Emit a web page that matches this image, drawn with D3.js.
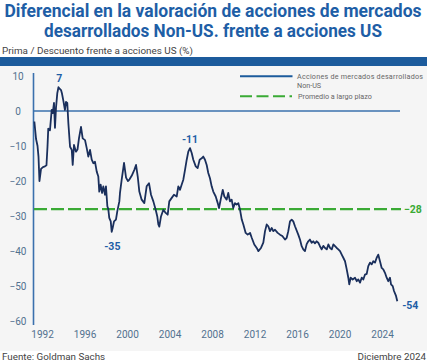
<!DOCTYPE html>
<html>
<head>
<meta charset="utf-8">
<script src="https://cdn.jsdelivr.net/npm/d3@7"></script>
<style>
  html, body { margin: 0; padding: 0; background: #ffffff; }
  svg { display: block; }
</style>
</head>
<body>
<div id="chart"></div>
<script>
// ---- Data ----
const titleLines = ["Diferencial en la valoración de acciones de mercados", "desarrollados Non-US. frente a acciones US"];
const subtitle = "Prima / Descuento frente a acciones US (%)";
const seriesName = ["Acciones de mercados desarrollados", "Non-US"];
const avgName = "Promedio a largo plazo";
const source = "Fuente: Goldman Sachs";
const dateNote = "Diciembre 2024";

const years = [
  1991.28,1991.44,1991.58,1991.67,1991.76,1991.91,1992.09,1992.28,1992.42,1992.52,1992.59,1992.75,1992.91,1993.01,1993.13,1993.22,1993.32,1993.44,1993.55,1993.63,1993.79,1993.88,
  1994.00,1994.16,1994.26,1994.38,1994.48,1994.64,1994.80,1994.89,1995.01,1995.20,1995.34,1995.48,1995.67,1995.83,1996.05,1996.21,1996.36,1996.52,1996.68,1996.83,1996.99,
  1997.15,1997.30,1997.39,1997.52,1997.65,1997.77,1997.93,1998.02,1998.15,1998.24,1998.33,1998.47,1998.56,1998.65,1998.78,1998.96,1999.09,1999.28,1999.34,1999.50,1999.62,1999.72,1999.91,
  2000.09,2000.24,2000.44,2000.69,2000.85,2001.01,2001.16,2001.38,2001.63,2001.85,2002.07,2002.26,2002.48,2002.70,2002.85,2002.95,2003.04,2003.20,2003.42,2003.64,2003.83,2003.98,
  2004.21,2004.42,2004.68,2004.83,2004.99,2005.15,2005.30,2005.46,2005.62,2005.77,2005.93,2006.09,2006.24,2006.47,2006.65,2006.84,2007.03,2007.18,2007.34,2007.50,2007.65,2007.81,2007.97,
  2008.12,2008.35,2008.54,2008.66,2008.85,2009.01,2009.16,2009.38,2009.53,2009.69,2009.85,2010.00,2010.16,2010.32,2010.48,2010.64,2010.80,2010.95,2011.17,2011.36,2011.58,2011.74,2011.98,
  2012.21,2012.36,2012.61,2012.83,2012.99,2013.15,2013.30,2013.46,2013.62,2013.77,2013.93,2014.18,2014.40,2014.62,2014.87,2015.03,2015.18,2015.34,2015.50,2015.65,2015.81,
  2016.12,2016.28,2016.44,2016.59,2016.75,2016.91,2017.06,2017.22,2017.38,2017.53,2017.69,2017.85,2018.00,2018.16,2018.32,2018.48,2018.64,2018.80,2018.95,2019.11,2019.27,2019.42,2019.58,2019.74,2019.89,
  2020.05,2020.21,2020.36,2020.52,2020.68,2020.83,2020.92,2021.05,2021.24,2021.46,2021.62,2021.77,2021.93,2022.09,2022.24,2022.40,2022.56,2022.71,2022.87,2023.03,2023.18,2023.34,2023.50,2023.65,2023.81,2023.97,
  2024.12,2024.28,2024.44,2024.59,2024.75,2024.85,2025.01,2025.13,2025.32,2025.44
];
const values = [
  -3,-8,-10,-13,-20,-16.5,-16,-15.8,-15.5,-10,-5,-5.5,0.3,-0.6,2.3,-4.8,1,5.1,6.8,6.5,6,5,
  3.1,0.3,2.6,2.3,-3.4,-10.2,-11.1,-15.4,-9.7,-11.6,-11,-7.8,-4.5,-7.8,-8.3,-10.6,-13,-11.1,-13.9,-14.9,-14.5,
  -17.3,-18.7,-23,-21,-23.4,-21.5,-23.9,-21.5,-27.2,-28,-30.5,-31.5,-34.5,-33.4,-31.5,-31,-28.6,-25.8,-23.4,-19.6,-17,-14.8,-19,
  -20,-19.5,-18.5,-16.8,-15.4,-18.7,-23,-25.3,-26.3,-21.5,-20.6,-23.9,-25.8,-28.2,-30.1,-32.4,-33,-30.1,-28.2,-29.1,-29.6,-25.8,
  -24.8,-23.9,-24.4,-21.5,-22.5,-21,-19.6,-16.8,-13.9,-11.6,-10.6,-12,-13.9,-15.8,-16.3,-13.9,-13.5,-13,-13.9,-15.4,-17.7,-19.2,-21.5,
  -23,-24.4,-26.3,-27.7,-24.8,-22.5,-24.4,-25.3,-23.4,-25.8,-25.3,-27.7,-26.3,-26.7,-26.3,-28.2,-31,-32.4,-34.8,-35.3,-34.8,-36.2,-38.1,
  -39.1,-40,-39.1,-37.6,-34.3,-32.4,-32.9,-34.3,-33.4,-34.3,-33.9,-34.8,-35.3,-35.7,-36.7,-36.2,-34.3,-31.5,-31,-31.5,-32.9,
  -35.3,-36.7,-38.6,-39.5,-40,-38,-37.2,-36.7,-37.6,-37.2,-37.8,-37.2,-37.6,-38.6,-39.5,-38.5,-39.1,-39.5,-38.1,-39.1,-39.5,-38.1,-38.6,-39.1,-39.5,
  -40,-41,-41.9,-42.9,-45.2,-47.6,-49.5,-47.6,-48.1,-47.6,-48.6,-48.1,-49,-47.6,-48.1,-46.7,-46.5,-44.3,-43.3,-43.8,-42.9,-43.3,-41.9,-41,-42.9,-44.8,
  -45.2,-46.2,-47.6,-48.6,-47.6,-49.5,-50,-51.4,-52.8,-54.3
];
const longTermAvg = -28;
const xTicks = [1992, 1996, 2000, 2004, 2008, 2012, 2016, 2020, 2024];
const yTicks = [10, 0, -10, -20, -30, -40, -50, -60];
// annotated points: label, year, value
const annoLabels = ["7", "-35", "-11", "-54"];
const annoYears = [1993.62, 1998.62, 2005.93, 2025.44];
const annoValues = [6.8, -34.5, -10.6, -54.3];

// ---- Layout ----
const W = 428, H = 364;
const svg = d3.select("#chart").append("svg").attr("width", W).attr("height", H);
const font = "Roboto, 'Noto Sans', sans-serif";
const blue = "#1c5b9c";
const axisBlue = "#3a70ad";
const navy = "#1a2f5c";
const green = "#3aaa35";
const tickColor = "#52718f";

// backgrounds
svg.append("rect").attr("x", 0).attr("y", 0).attr("width", W).attr("height", H).attr("fill", "#ffffff");
svg.append("rect").attr("x", 0).attr("y", 66).attr("width", 427).attr("height", 285).attr("fill", "#f5f5f5");
svg.append("rect").attr("x", 0).attr("y", 57).attr("width", 427).attr("height", 9).attr("fill", blue);

// title
const titleY = [17, 37];
const titleW = [417, 338];
titleLines.forEach((t, i) => {
  svg.append("text").attr("x", 213).attr("y", titleY[i]).attr("text-anchor", "middle")
    .attr("font-family", font).attr("font-weight", 700).attr("font-size", 17.5)
    .attr("fill", "#1e5ea6")
    .attr("textLength", titleW[i]).attr("lengthAdjust", "spacingAndGlyphs")
    .text(t);
});
svg.append("text").attr("x", 2).attr("y", 54).attr("font-family", font).attr("font-size", 9)
  .attr("fill", "#444").attr("textLength", 191).attr("lengthAdjust", "spacingAndGlyphs").text(subtitle);

// scales
const x = d3.scaleLinear().domain([1992, 2024]).range([42, 382]);
const y = d3.scaleLinear().domain([-61.1, 10.86]).range([325, 73]);

// y axis labels
const yAxis = d3.axisLeft(y).tickValues(yTicks).tickSize(0).tickPadding(0).tickFormat(d3.format("d"));
const gy = svg.append("g").attr("transform", "translate(18,0)").call(yAxis);
gy.select(".domain").remove();
gy.selectAll("text").attr("text-anchor", "middle").attr("x", 0)
  .attr("font-family", font).attr("font-size", 10).attr("fill", tickColor);

// x axis labels
const xAxis = d3.axisBottom(x).tickValues(xTicks).tickSize(0).tickPadding(0).tickFormat(d3.format("d"));
const gx = svg.append("g").attr("transform", "translate(0,331)").call(xAxis);
gx.select(".domain").remove();
gx.selectAll("text").attr("font-family", font).attr("font-size", 10).attr("fill", tickColor);

// y axis line
svg.append("line").attr("x1", 33.5).attr("x2", 33.5).attr("y1", y.range()[1]).attr("y2", y.range()[0])
  .attr("stroke", axisBlue).attr("stroke-width", 1.6);
// zero line
svg.append("line").attr("x1", 33.5).attr("x2", 400).attr("y1", y(0)).attr("y2", y(0))
  .attr("stroke", axisBlue).attr("stroke-width", 1.5);

// long term average
svg.append("line").attr("x1", 34).attr("x2", 401).attr("y1", y(longTermAvg)).attr("y2", y(longTermAvg))
  .attr("stroke", green).attr("stroke-width", 2.4).attr("stroke-dasharray", "13,4");
svg.append("text").attr("x", 404).attr("y", y(longTermAvg)).attr("dy", "0.35em")
  .attr("font-family", font).attr("font-weight", 700).attr("font-size", 10.5).attr("fill", green)
  .text(d3.format("d")(longTermAvg));

// series line
const pts = years.map((yr, i) => [yr, values[i]]);
const line = d3.line().x(d => x(d[0])).y(d => y(d[1]));
svg.append("path").datum(pts).attr("d", line).attr("fill", "none")
  .attr("stroke", navy).attr("stroke-width", 1.8).attr("stroke-linejoin", "round");

// annotations
const annoOffset = [[0, -9], [0, 14], [0, -9], [13, 4]];
annoLabels.forEach((lab, i) => {
  svg.append("text").attr("x", x(annoYears[i]) + annoOffset[i][0]).attr("y", y(annoValues[i]) + annoOffset[i][1])
    .attr("dy", "0.35em").attr("text-anchor", "middle")
    .attr("font-family", font).attr("font-weight", 700).attr("font-size", 10.5).attr("fill", "#1e5ea6")
    .text(lab);
});

// legend
svg.append("line").attr("x1", 240).attr("x2", 292.5).attr("y1", 76.3).attr("y2", 76.3)
  .attr("stroke", blue).attr("stroke-width", 2);
svg.append("text").attr("x", 297).attr("y", 76.5).attr("dy", "0.35em").attr("font-family", font)
  .attr("font-size", 7.2).attr("fill", "#666").attr("textLength", 126).attr("lengthAdjust", "spacing")
  .text(seriesName[0]);
svg.append("text").attr("x", 297).attr("y", 85.5).attr("dy", "0.35em").attr("font-family", font)
  .attr("font-size", 7.2).attr("fill", "#666").text(seriesName[1]);
svg.append("line").attr("x1", 240).attr("x2", 292).attr("y1", 96.3).attr("y2", 96.3)
  .attr("stroke", green).attr("stroke-width", 2).attr("stroke-dasharray", "12,4.5");
svg.append("text").attr("x", 298).attr("y", 96.3).attr("dy", "0.35em").attr("font-family", font)
  .attr("font-size", 7.2).attr("fill", "#666").text(avgName);

// footer
svg.append("text").attr("x", 2).attr("y", 360).attr("font-family", font).attr("font-size", 9.8)
  .attr("fill", "#444").text(source);
svg.append("text").attr("x", 426).attr("y", 360).attr("text-anchor", "end").attr("font-family", font)
  .attr("font-size", 9.8).attr("fill", "#444").text(dateNote);
</script>
</body>
</html>
